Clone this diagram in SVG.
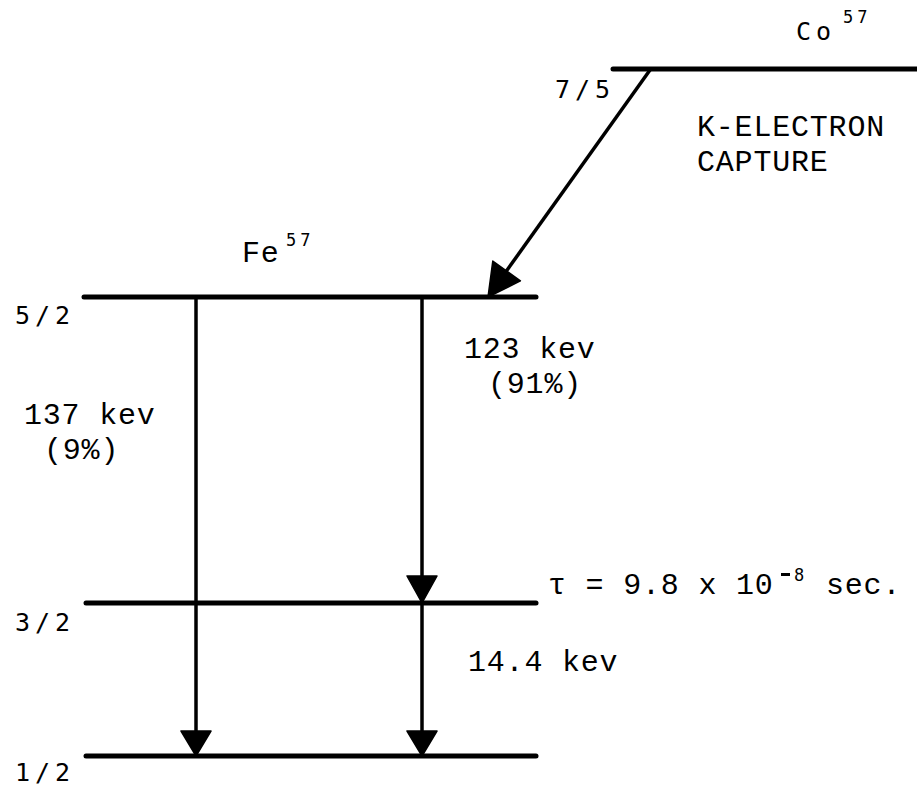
<svg xmlns="http://www.w3.org/2000/svg" width="917" height="787" viewBox="0 0 917 787">
<style>
.lvl{stroke:#000;stroke-width:5;stroke-linecap:round;fill:none}
.tr{stroke:#000;stroke-width:3.5;fill:none}
.hd{fill:#000;stroke:#000;stroke-width:1.5;stroke-linejoin:round}
.tw{font-family:"Liberation Mono","Courier New",monospace;font-size:30px;letter-spacing:0.8px;fill:#000}
.sn{font-family:"DejaVu Sans Mono","Liberation Sans",sans-serif;font-size:25px;fill:#000;letter-spacing:5px}
.sup{font-family:"DejaVu Sans Mono","Liberation Sans",sans-serif;font-size:17px;fill:#000;letter-spacing:4px}
</style>
<rect width="917" height="787" fill="#fff"/>
<g id="co57">
<line class="lvl" x1="613" y1="69" x2="917" y2="69"/>
<text class="sn" x="796" y="40">Co</text>
<text class="sup" x="843" y="23">57</text>
<text class="sn" x="555" y="98">7/5</text>
</g>
<g id="capture-label">
<text class="tw" x="697" y="136">K-ELECTRON</text>
<text class="tw" x="697" y="171">CAPTURE</text>
</g>
<g id="fe-5-2">
<line class="lvl" x1="84" y1="297" x2="536" y2="297"/>
<text class="tw" x="242" y="262">Fe</text>
<text class="sup" x="286" y="246">57</text>
<text class="sn" x="15" y="324">5/2</text>
</g>
<g id="fe-3-2">
<line class="lvl" x1="86" y1="603" x2="536" y2="603"/>
<text class="sn" x="15" y="631">3/2</text>
</g>
<g id="fe-1-2">
<line class="lvl" x1="86" y1="756" x2="536" y2="756"/>
<text class="sn" x="15" y="781">1/2</text>
</g>
<g id="connectors">
<line class="tr" x1="650" y1="70" x2="500" y2="280"/>
<polygon class="hd" points="488,297 492.8,261.1 520.4,280.9"/>
<line class="tr" x1="196" y1="297" x2="196" y2="735"/>
<polygon class="hd" points="196,756 181,731 211,731"/>
<line class="tr" x1="422" y1="297" x2="422" y2="580"/>
<polygon class="hd" points="422,603 407,576 437,576"/>
<line class="tr" x1="422" y1="603" x2="422" y2="735"/>
<polygon class="hd" points="422,756 407,731 437,731"/>
</g>
<g id="labels">
<text class="tw" x="464" y="358">123 kev</text>
<text class="tw" x="488" y="393">(91%)</text>
<text class="tw" x="24" y="424">137 kev</text>
<text class="tw" x="44" y="459">(9%)</text>
<text class="tw" x="548" y="594">τ = 9.8 x 10</text>
<rect x="781" y="573" width="9" height="3" fill="#000"/>
<text class="sup" x="794" y="581">8</text>
<text class="tw" x="826" y="594">sec.</text>
<text class="tw" x="468" y="671">14.4 kev</text>
</g>
</svg>
